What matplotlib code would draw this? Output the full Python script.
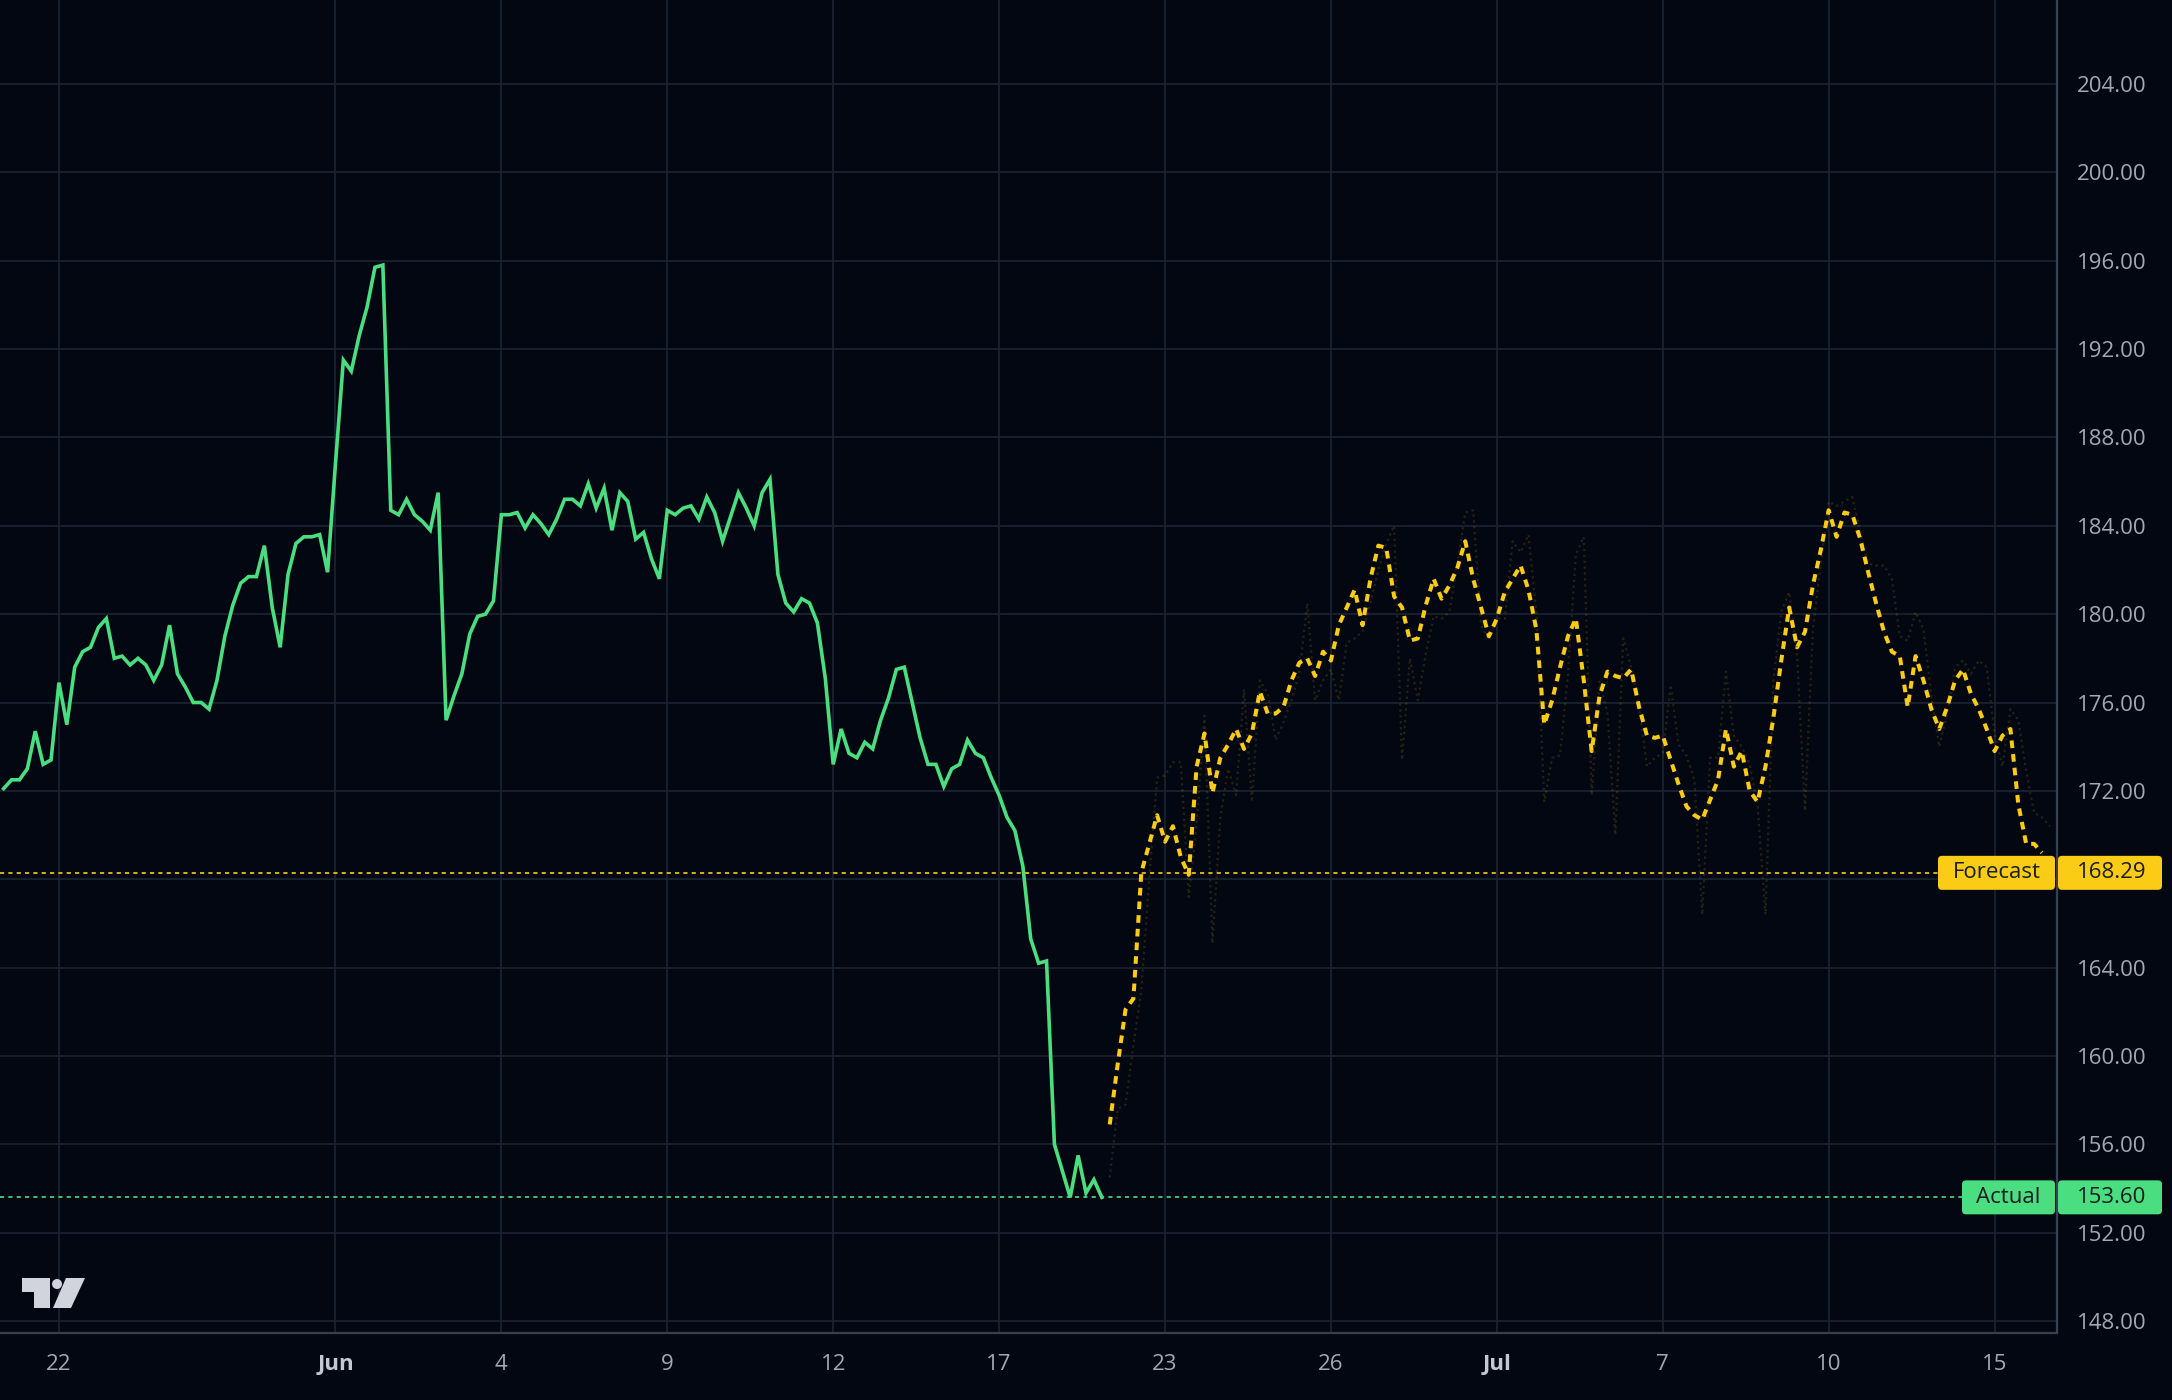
import numpy as np
import matplotlib
matplotlib.use('Agg')
import matplotlib.pyplot as plt
from matplotlib.patches import FancyBboxPatch, Polygon, Circle
from matplotlib.transforms import IdentityTransform

plt.rcParams['font.family'] = ['Open Sans', 'DejaVu Sans']

# ---------------- data ----------------
actual_start = -7          # bar index of first actual value (bar 0 = first bar of May 22)
actual_values = [
    172.1, 172.5, 172.5, 173.0, 174.7, 173.2, 173.4,
    176.9, 175.0, 177.6, 178.3, 178.5, 179.4, 179.8, 178.0, 178.1, 177.7,
    178.0, 177.7, 177.0, 177.7, 179.5, 177.3, 176.7, 176.0, 176.0, 175.7,
    177.0, 179.0, 180.4, 181.4, 181.7, 181.7, 183.1, 180.3, 178.5, 181.8,
    183.2, 183.5, 183.5, 183.6, 181.9, 186.8, 191.5, 191.0, 192.6, 193.9,
    195.7, 195.8, 184.7, 184.5, 185.2, 184.5, 184.2, 183.8, 185.5, 175.2,
    176.3, 177.3, 179.1, 179.9, 180.0, 180.6, 184.5, 184.5, 184.6, 183.9,
    184.5, 184.1, 183.6, 184.3, 185.2, 185.2, 184.9, 185.9, 184.8, 185.7,
    183.8, 185.5, 185.1, 183.4, 183.7, 182.5, 181.6, 184.7, 184.5, 184.8,
    184.9, 184.3, 185.3, 184.6, 183.3, 184.4, 185.5, 184.8, 184.0, 185.5,
    186.1, 181.8, 180.5, 180.1, 180.7, 180.5, 179.6, 177.1, 173.2, 174.8,
    173.7, 173.5, 174.2, 173.9, 175.2, 176.2, 177.5, 177.6, 176.0, 174.4,
    173.2, 173.2, 172.2, 173.0, 173.2, 174.3, 173.7, 173.5, 172.6, 171.8,
    170.8, 170.2, 168.6, 165.3, 164.2, 164.3, 156.0, 154.8, 153.6, 155.5,
    153.8, 154.4, 153.6,
]

forecast_start = 133
forecast_values = [
    156.9, 159.6, 162.1, 162.6, 168.3, 169.6, 170.9, 169.7, 170.4, 169.0,
    168.2, 173.1, 174.6, 171.9, 173.5, 174.1, 174.8, 173.9, 174.6, 176.5,
    175.5, 175.5, 175.8, 177.0, 177.8, 178.0, 177.2, 178.3, 177.9, 179.5,
    180.3, 181.1, 179.5, 181.6, 183.1, 183.0, 180.8, 180.3, 178.8, 178.9,
    180.4, 181.6, 180.7, 181.3, 182.1, 183.3, 181.6, 180.3, 179.0, 179.8,
    181.0, 181.6, 182.2, 181.1, 179.3, 175.0, 176.1, 177.6, 179.0, 179.8,
    177.0, 173.8, 176.3, 177.4, 177.2, 177.1, 177.5, 175.8, 174.5, 174.4,
    174.5, 173.4, 172.3, 171.3, 170.9, 170.7, 171.6, 172.5, 174.8, 173.1,
    173.8, 172.0, 171.5, 173.1, 175.3, 177.9, 180.3, 178.5, 179.2, 181.3,
    182.9, 184.7, 183.5, 184.6, 184.5, 183.4, 181.9, 180.5, 179.2, 178.3,
    178.1, 175.8, 178.1, 177.0, 175.7, 174.8, 175.8, 177.0, 177.5, 176.4,
    175.7, 174.8, 173.8, 174.5, 174.8, 171.4, 169.6, 169.6, 169.2,
]

model_start = 133
model_values = [
    154.5, 157.6, 157.8, 160.5, 163.0, 168.0, 172.6, 172.7, 173.3, 173.3,
    167.2, 170.5, 175.4, 165.1, 170.8, 173.0, 171.8, 176.6, 171.5, 177.0,
    176.4, 174.3, 175.1, 176.1, 177.3, 180.5, 176.1, 177.0, 177.5, 176.1,
    178.7, 178.9, 179.2, 180.5, 182.0, 183.2, 184.0, 173.4, 178.0, 176.1,
    178.2, 179.9, 179.8, 180.1, 182.3, 184.6, 184.7, 179.5, 178.8, 179.8,
    179.8, 183.3, 182.8, 183.6, 180.1, 171.5, 173.5, 173.6, 177.3, 182.7,
    183.5, 171.8, 177.0, 175.5, 170.0, 178.9, 177.6, 175.8, 173.1, 173.5,
    173.7, 176.8, 174.1, 173.6, 172.5, 166.4, 173.5, 173.5, 177.4, 174.5,
    174.0, 173.2, 171.3, 166.4, 177.0, 180.1, 181.0, 178.1, 171.1, 179.3,
    182.3, 185.1, 184.9, 185.1, 185.3, 183.7, 182.3, 182.2, 182.2, 181.6,
    179.0, 178.8, 180.1, 179.3, 176.3, 174.0, 175.5, 177.6, 177.9, 177.3,
    177.9, 177.6, 174.6, 173.1, 175.7, 175.2, 172.9, 171.0, 170.8, 170.4,
]

tick_positions = [0, 35, 56, 77, 98, 119, 140, 161, 182, 203, 224, 245]
tick_labels = ['22', 'Jun', '4', '9', '12', '17', '23', '26', 'Jul', '7', '10', '15']
month_labels = ['Jun', 'Jul']
y_ticks = [148, 152, 156, 160, 164, 168, 172, 176, 180, 184, 188, 192, 196, 200, 204]
hidden_y_ticks = [168]     # covered by the forecast price label in the reference

forecast_level = 168.29
actual_level = 153.60
forecast_name = 'Forecast'
actual_name = 'Actual'

# ---------------- style ----------------
BG = '#030712'
GRID = '#1c2433'
SPINE = '#374151'
TEXT = '#a3a8b3'
GREEN = '#4ade80'
YELLOW = '#facc15'

W, H = 2172, 1400
fig = plt.figure(figsize=(W / 100, H / 100), dpi=100, facecolor=BG)
ax_bottom = 67
ax_right = 2057
ax = fig.add_axes([0, ax_bottom / H, ax_right / W, 1 - ax_bottom / H])
ax.set_facecolor(BG)
ax.set_xlim(-7.46, 252.9)
ax.set_ylim(147.46, 207.8)

ax.set_xticks(tick_positions)
ax.set_xticklabels(tick_labels)
ax.set_yticks(y_ticks)
ax.set_yticklabels(['' if v in hidden_y_ticks else f'{v:.2f}' for v in y_ticks])
ax.yaxis.tick_right()
ax.grid(True, color=GRID, linewidth=1.2, zorder=0)
ax.set_axisbelow(True)
ax.tick_params(axis='y', length=0, pad=14.5, labelsize=16, labelcolor=TEXT)
ax.tick_params(axis='x', length=0, pad=15, labelsize=16, labelcolor=TEXT)
for lab in ax.get_xticklabels():
    if lab.get_text() in month_labels:
        lab.set_fontweight('bold')
        lab.set_color('#c4c8d0')
for side in ['top', 'left']:
    ax.spines[side].set_visible(False)
for side in ['right', 'bottom']:
    ax.spines[side].set_color(SPINE)
    ax.spines[side].set_linewidth(1.6)

# reference levels
ax.axhline(forecast_level, color=YELLOW, linewidth=1.2, linestyle=(0, (2.5, 2.5)), zorder=2)
ax.axhline(actual_level, color=GREEN, linewidth=1.2, linestyle=(0, (2.5, 2.5)), zorder=2)

# series
xa = np.arange(actual_start, actual_start + len(actual_values))
xm = np.arange(model_start, model_start + len(model_values))
xf = np.arange(forecast_start, forecast_start + len(forecast_values))
ax.plot(xm, model_values, color=YELLOW, alpha=0.14, linewidth=1.6, linestyle=':', zorder=3)
ax.plot(xa, actual_values, color=GREEN, linewidth=2.6, solid_joinstyle='miter', zorder=4)
ax.plot(xf, forecast_values, color=YELLOW, linewidth=2.9, linestyle=(0, (1.9, 1.5)), zorder=5)

# ---------------- price labels ----------------
fig.canvas.draw()
ident = IdentityTransform()


def price_label(level, name, color, name_left):
    yc = ax.transData.transform((0, level))[1]
    h = 34
    for x0, x1 in [(name_left, ax_right - 2), (ax_right + 1, 2162)]:
        fig.add_artist(FancyBboxPatch((x0, yc - h / 2), x1 - x0, h,
                                      boxstyle='round,pad=0,rounding_size=4',
                                      facecolor=color, edgecolor='none',
                                      transform=ident, zorder=20))
    fig.text(((name_left + ax_right - 2) / 2) / W, yc / H, name, ha='center', va='center',
             fontsize=16, color='#1a1d24', zorder=21)
    fig.text(2077 / W, yc / H, f'{level:.2f}', ha='left', va='center',
             fontsize=16, color='#1a1d24', zorder=21)


price_label(forecast_level, forecast_name, YELLOW, 1938)
price_label(actual_level, actual_name, GREEN, 1962)

# ---------------- logo ----------------
def img(x, y):
    return (x, H - y)

logo_col = '#d1d4dc'
fig.add_artist(Polygon([img(22, 1278), img(50, 1278), img(50, 1308), img(34, 1308),
                        img(34, 1292), img(22, 1292)], closed=True,
                       facecolor=logo_col, edgecolor='none', transform=ident, zorder=20))
fig.add_artist(Circle(img(57, 1284), 5, facecolor=logo_col, edgecolor='none',
                      transform=ident, zorder=20))
fig.add_artist(Polygon([img(66, 1278), img(85, 1278), img(71, 1308), img(53, 1308)],
                       closed=True, facecolor=logo_col, edgecolor='none',
                       transform=ident, zorder=20))

fig.savefig('out.png', dpi=100, facecolor=BG)
